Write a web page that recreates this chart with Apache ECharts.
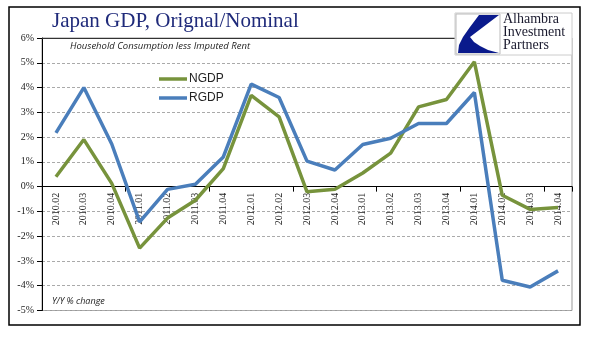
<!DOCTYPE html>
<html>
<head>
<meta charset="utf-8">
<script src="https://cdn.jsdelivr.net/npm/echarts@6/dist/echarts.min.js"></script>
<style>html,body{margin:0;padding:0;background:#fff}#c{width:594px;height:341px}</style>
</head>
<body>
<div id="c"></div>
<script>
const categories = ["2010.02","2010.03","2010.04","2011.01","2011.02","2011.03","2011.04","2012.01","2012.02","2012.03","2012.04","2013.01","2013.02","2013.03","2013.04","2014.01","2014.02","2014.03","2014.04"];
const ngdp = [0.40, 1.90, 0.13, -2.48, -1.27, -0.55, 0.73, 3.68, 2.82, -0.21, -0.11, 0.55, 1.35, 3.22, 3.52, 5.04, -0.35, -0.92, -0.84];
const rgdp = [2.17, 4.00, 1.72, -1.42, -0.11, 0.10, 1.20, 4.14, 3.60, 1.03, 0.67, 1.70, 1.95, 2.55, 2.55, 3.80, -3.78, -4.05, -3.40];
const yTicks = {min: -5, max: 6, interval: 1};
const titleText = "Japan GDP, Orignal/Nominal";
const subtitleText = "Household Consumption less Imputed Rent";
const unitText = "Y/Y % change";
const logoLines = ["Alhambra", "Investment", "Partners"];

const chart = echarts.init(document.getElementById('c'), null, {renderer: 'canvas'});
const green = '#77933c', blue = '#4a7ebb';
const gridBottom = 30.5;
chart.setOption({
  animation: false,
  backgroundColor: '#fff',
  title: {
    text: titleText, left: 52, top: 11, padding: 0,
    textStyle: {fontFamily: 'Liberation Serif', fontSize: 21, fontWeight: 'normal', color: '#1f2a7a'}
  },
  legend: {
    orient: 'vertical', left: 159, top: 73, itemWidth: 28, itemHeight: 3.5, itemGap: 7,
    icon: 'rect', padding: 0,
    data: ['NGDP', 'RGDP'],
    textStyle: {fontFamily: 'Liberation Sans', fontSize: 12, color: '#222', padding: [0, 0, 0, -3]}
  },
  grid: {left: 42, right: 22, top: 38, bottom: gridBottom, containLabel: false, outerBoundsMode: 'none',
    show: true, borderColor: '#999', borderWidth: 1, backgroundColor: 'transparent'},
  xAxis: {
    type: 'category', data: categories, boundaryGap: true, offset: 0,
    axisLine: {onZero: false, lineStyle: {color: '#000', width: 1}},
    axisTick: {show: true, interval: 2, length: 5, lineStyle: {color: '#000'}},
    axisLabel: {interval: 0, rotate: 90, margin: 6, fontFamily: 'Liberation Serif', fontSize: 10, color: '#222'}
  },
  yAxis: {
    type: 'value', min: yTicks.min, max: yTicks.max, interval: yTicks.interval,
    axisLine: {show: true, lineStyle: {color: '#000'}},
    axisTick: {show: true, length: 5, lineStyle: {color: '#000'}},
    axisLabel: {margin: 8, formatter: v => v + '%', fontFamily: 'Liberation Serif', fontSize: 10, color: '#222'},
    splitLine: {show: true, lineStyle: {color: '#aaa', type: [3, 2], width: 1}}
  },
  series: [
    {name: 'NGDP', type: 'line', data: ngdp, symbol: 'none', lineStyle: {color: green, width: 3.5}, itemStyle: {color: green}},
    {name: 'RGDP', type: 'line', data: rgdp, symbol: 'none', lineStyle: {color: blue, width: 3.5}, itemStyle: {color: blue}}
  ],
  graphic: [
    {type: 'line', shape: {x1: 42, y1: 38.5, x2: 572, y2: 38.5}, style: {stroke: '#333', lineWidth: 1}, z: 99},
    {type: 'rect', shape: {x: 9, y: 7, width: 571, height: 318}, style: {fill: 'none', stroke: '#000', lineWidth: 1.5}, silent: true, z: 100},
    {type: 'text', x: 70, y: 41, style: {text: subtitleText, font: 'italic 9.5px "Open Sans"', fill: '#222'}, z: 100},
    {type: 'text', x: 52, y: 297, style: {text: unitText, font: 'italic 9px "Open Sans"', fill: '#222'}, z: 100},
    {type: 'rect', shape: {x: 455, y: 13, width: 117, height: 42}, style: {fill: '#fff', stroke: '#ccc', lineWidth: 1}, z: 100},
    {type: 'rect', shape: {x: 456, y: 14, width: 44, height: 40}, style: {fill: '#fff', stroke: '#bbb', lineWidth: 1}, z: 101},
    {type: 'polygon', shape: {points: [[479,15],[499,15],[470,37],[474,42],[480,46],[488,50],[499,53],[458,53],[459,45],[463,37],[470,27]]}, style: {fill: '#0a1a8c'}, z: 102},
    {type: 'text', x: 503, y: 13, style: {text: logoLines.join('\n'), font: '14px "Liberation Serif"', fill: '#1a1a2e', lineHeight: 13}, z: 102}
  ]
});
// move the category axis up to the zero line of the value axis
const zeroY = chart.convertToPixel({yAxisIndex: 0}, 0);
const bottomY = 341 - gridBottom;
chart.setOption({xAxis: {offset: -(bottomY - zeroY)}});
</script>
</body>
</html>
